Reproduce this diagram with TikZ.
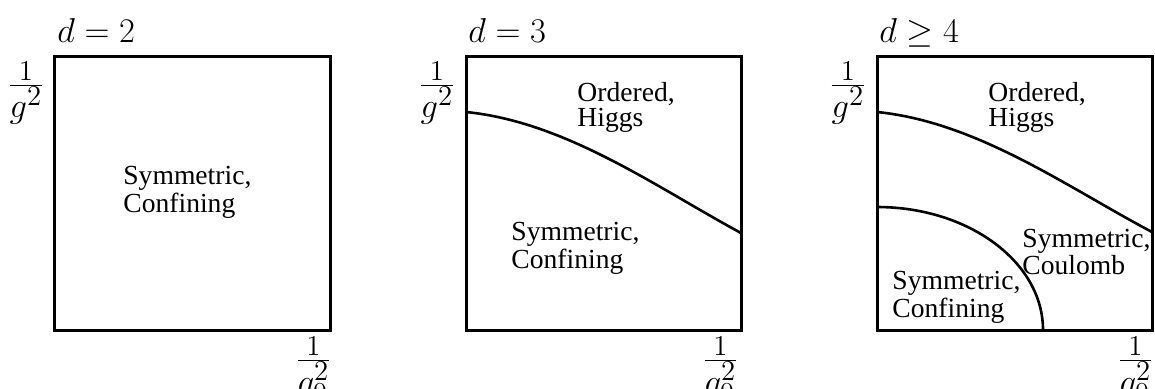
\documentclass[tikz,border=0pt]{standalone}
\usepackage{fontspec}
\setmainfont{Liberation Serif}
\begin{document}
\begin{tikzpicture}[x=0.5pt,y=-0.5pt,
  frame/.style={line width=1.5pt},
  boundary/.style={line width=1.3pt},
  region/.style={anchor=north west, inner sep=0pt, align=left,
    font=\fontsize{13.8}{12.5}\selectfont},
  dlabel/.style={anchor=base west, inner sep=0pt, font=\fontsize{18.8}{22}\selectfont},
  ylabel/.style={anchor=base, inner sep=0pt, font=\fontsize{19}{23}\selectfont},
  xlabel/.style={anchor=base east, inner sep=0pt, font=\fontsize{19}{23}\selectfont}]
\useasboundingbox (0,0) rectangle (1155,388);

% box corners
\coordinate (A-sw) at (54.5,330); \coordinate (A-ne) at (330,56);
\coordinate (B-sw) at (466,330);  \coordinate (B-ne) at (741,56);
\coordinate (C-sw) at (877,330);  \coordinate (C-ne) at (1152,56);

\draw[frame] (A-sw) rectangle (A-ne);
\draw[frame] (B-sw) rectangle (B-ne);
\draw[frame] (C-sw) rectangle (C-ne);

% phase boundaries
\coordinate (B-l) at (466,112); \coordinate (B-r) at (741,233);
\draw[boundary] (B-l) .. controls (566,122) and (656,187) .. (B-r);
\coordinate (C-l) at (877,112); \coordinate (C-r) at (1152,232);
\draw[boundary] (C-l) .. controls (977,122) and (1067,187) .. (C-r);
\coordinate (C-a) at (877,207);
\draw[boundary] (C-a) arc[start angle=-90, end angle=0, x radius=166, y radius=123];

% titles
\node[dlabel] (tA) at (57,42) {$d=2$};
\node[dlabel] (tB) at (468,42) {$d=3$};
\node[dlabel] (tC) at (879,42) {$d\geq 4$};

% axis labels
\node[ylabel] (yA) at (26,94) {$\frac{\scriptstyle 1}{\textstyle g^2}$};
\node[ylabel] (yB) at (437,94) {$\frac{\scriptstyle 1}{\textstyle g^2}$};
\node[ylabel] (yC) at (848,94) {$\frac{\scriptstyle 1}{\textstyle g^2}$};
\node[xlabel] (xA) at (332,369.5) {$\frac{\scriptstyle 1}{\textstyle q_0^2}$};
\node[xlabel] (xB) at (739,369.5) {$\frac{\scriptstyle 1}{\textstyle q_0^2}$};
\node[xlabel] (xC) at (1154,369.5) {$\frac{\scriptstyle 1}{\textstyle q_0^2}$};

% region labels
\node[region] (rA) at (123,166) {Symmetric,\\Confining};
\node[region] (rB1) at (577,82) {Ordered,\\Higgs};
\node[region] (rB2) at (511,222) {Symmetric,\\Confining};
\node[region] (rC1) at (988,82) {Ordered,\\Higgs};
\node[region] (rC2) at (1022,229) {Symmetric,\\Coulomb};
\node[region] (rC3) at (892,271) {Symmetric,\\Confining};
\end{tikzpicture}
\end{document}
